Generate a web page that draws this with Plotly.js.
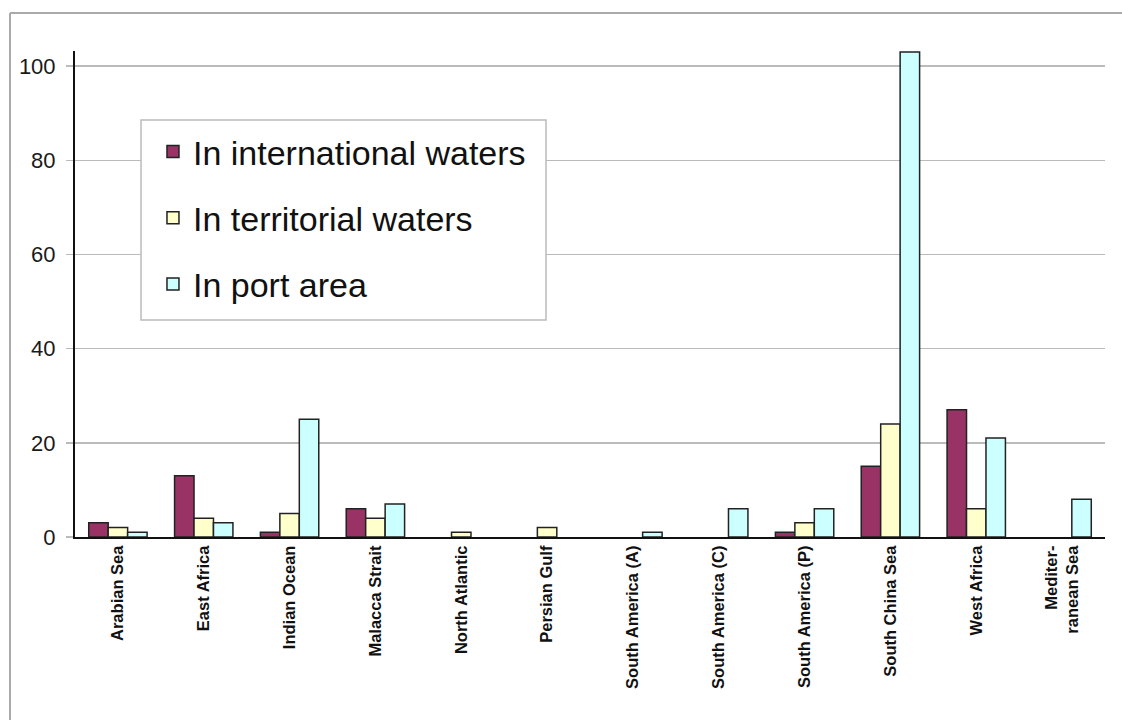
<!DOCTYPE html>
<html>
<head>
<meta charset="utf-8">
<script src="https://cdn.plot.ly/plotly-3.0.1.min.js"></script>
<style>html,body{margin:0;padding:0;background:#fff;}#chart{width:1122px;height:720px;}</style>
</head>
<body>
<div id="chart"></div>
<script>
const categories = ["Arabian Sea", "East Africa", "Indian Ocean", "Malacca Strait", "North Atlantic", "Persian Gulf", "South America (A)", "South America (C)", "South America (P)", "South China Sea", "West Africa", "Mediter-<br>ranean Sea"];
const internationalWaters = [3, 13, 1, 6, 0, 0, 0, 0, 1, 15, 27, 0];
const territorialWaters = [2, 4, 5, 4, 1, 2, 0, 0, 3, 24, 6, 0];
const portArea = [1, 3, 25, 7, 0, 0, 1, 6, 6, 103, 21, 8];
const seriesNames = ["In international waters", "In territorial waters", "In port area"];
const yTicks = [0, 20, 40, 60, 80, 100];

const colors = ["#993366", "#FFFFCC", "#CCFFFF"];
const seriesValues = [internationalWaters, territorialWaters, portArea];

const traces = seriesValues.map((vals, i) => ({
  type: "bar",
  name: seriesNames[i],
  x: categories,
  y: vals.map(v => (v === 0 ? null : v)),
  legendgroup: "g" + i,
  marker: {color: colors[i], line: {color: "#222222", width: 1.5}},
  hoverinfo: "x+y+name"
}));

const layout = {
  width: 1122, height: 720,
  margin: {l: 75, r: 17, t: 51, b: 183},
  paper_bgcolor: "#ffffff",
  plot_bgcolor: "#ffffff",
  barmode: "group",
  bargap: 0.32,
  bargroupgap: 0,
  font: {family: "Arial, 'Liberation Sans', sans-serif", color: "#111111"},
  xaxis: {
    type: "category",
    tickangle: -90,
    tickfont: {size: 16.5, family: "Arial, 'Liberation Sans', sans-serif", weight: "bold", color: "#111111"},
    showline: true, linecolor: "#111111", linewidth: 2,
    showgrid: false, ticks: "", zeroline: false
  },
  yaxis: {
    range: [0, 103.2],
    tickvals: yTicks,
    ticktext: yTicks.map(String),
    tickfont: {size: 22, color: "#1a1a1a"},
    showline: true, linecolor: "#111111", linewidth: 2,
    showgrid: true, gridcolor: "#bbbbbb", gridwidth: 1.5,
    ticks: "outside", ticklen: 7, tickcolor: "#bbbbbb", tickwidth: 1.5,
    ticklabelstandoff: 6,
    zeroline: false
  },
  legend: {
    x: 0.0757, xanchor: "left",
    y: 0.852, yanchor: "top",
    bgcolor: "rgba(0,0,0,0)", borderwidth: 0,
    font: {size: 34, color: "#111111"},
    tracegroupgap: 19,
    traceorder: "grouped"
  },
  shapes: [
    {type: "rect", xref: "paper", yref: "paper", x0: 0.0641, x1: 0.4573, y0: 0.4465, y1: 0.858,
     fillcolor: "#ffffff", line: {color: "#bbbbbb", width: 1.5}, layer: "above"},
    {type: "line", xref: "paper", yref: "paper", x0: -0.0631, x1: -0.0631, y0: 1.078, y1: -0.4,
     line: {color: "#aaaaaa", width: 2}},
    {type: "line", xref: "paper", yref: "paper", x0: -0.0631, x1: 1.02, y0: 1.078, y1: 1.078,
     line: {color: "#aaaaaa", width: 2}}
  ],
  showlegend: true
};

Plotly.newPlot("chart", traces, layout, {displayModeBar: false, staticPlot: true});
</script>
</body>
</html>
